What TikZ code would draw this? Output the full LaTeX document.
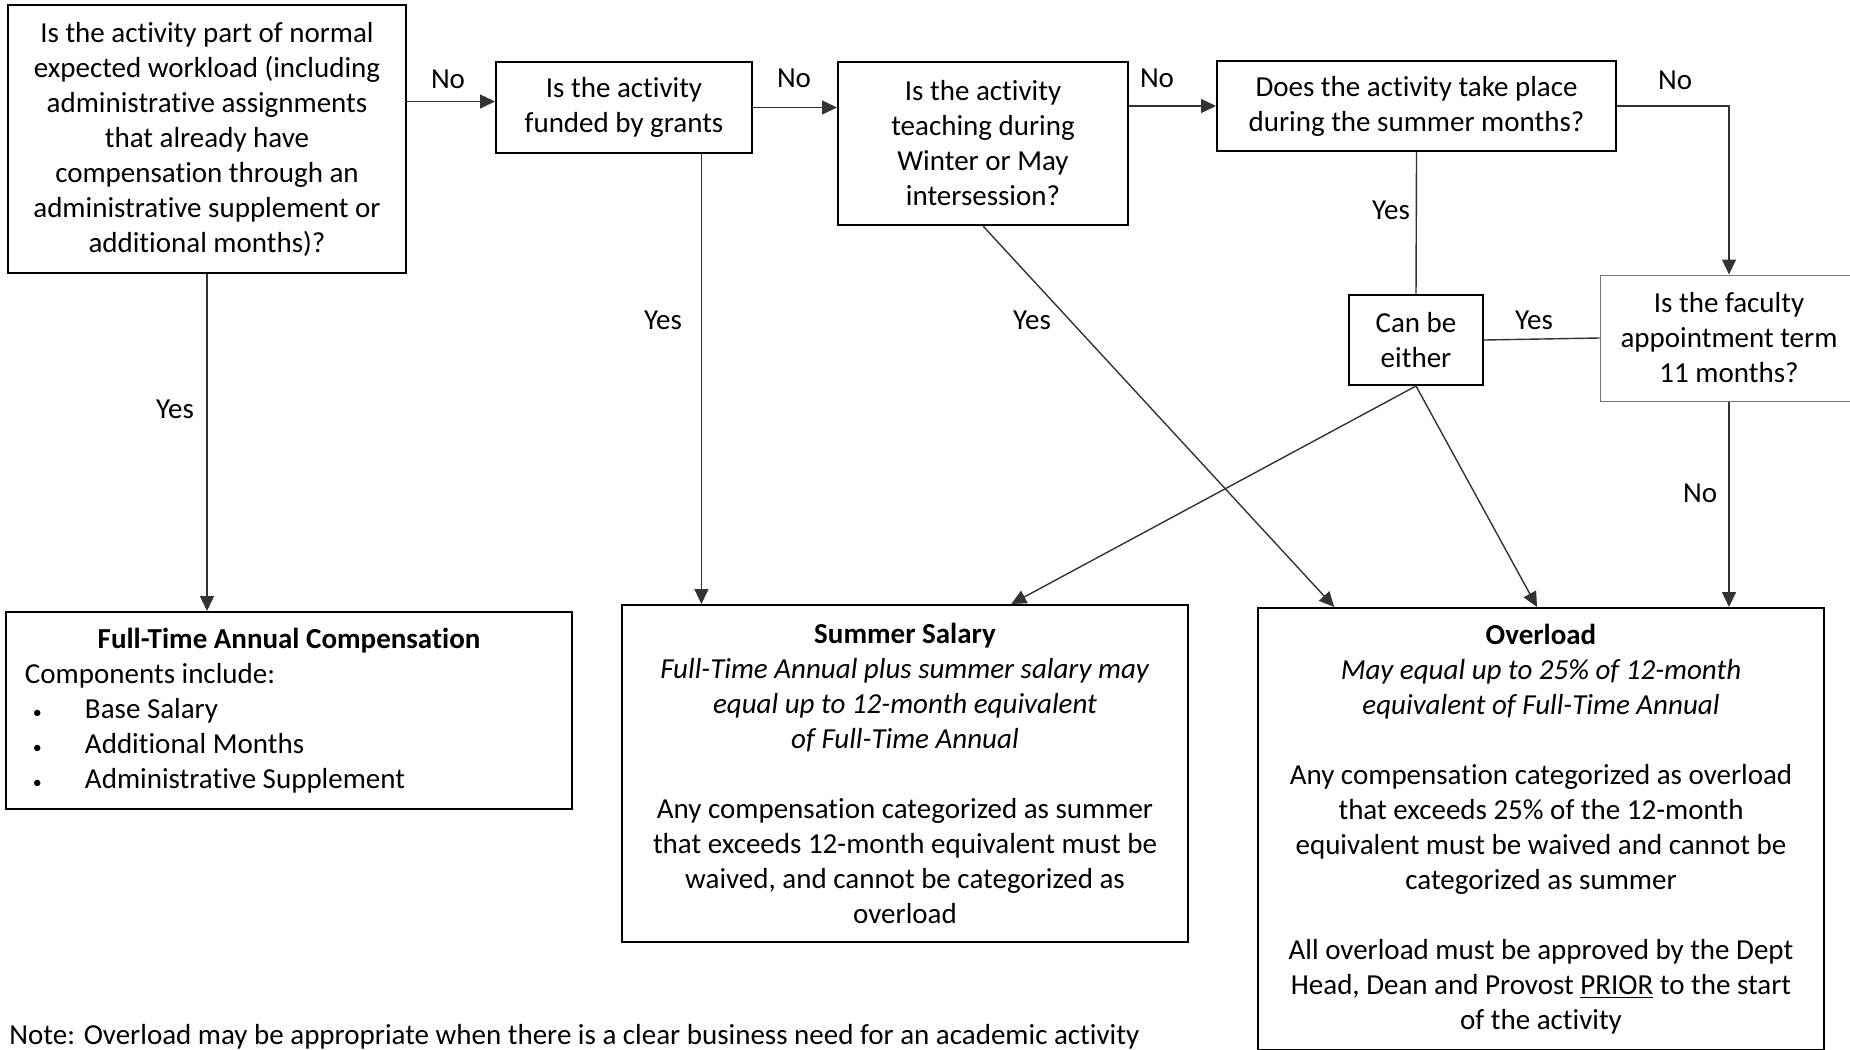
\documentclass[tikz,border=0pt]{standalone}
\usepackage{fontspec}
\setmainfont{Carlito}[Ligatures=NoCommon]
\usetikzlibrary{arrows.meta,calc}

\begin{document}
\begin{tikzpicture}[x=0.5pt,y=-0.5pt,
	every node/.style={font=\fontsize{14.5}{17.5}\selectfont},
	box/.style={draw,line width=1pt,align=center,inner sep=0pt},
	thinbox/.style={draw=black!55,line width=0.5pt,align=center,inner sep=0pt},
	link/.style={draw=black!80,line width=0.7pt},
	arr/.style={link,-{Triangle[length=7.5pt,width=7pt]}}]
			\useasboundingbox (0,0) rectangle (1850,1049);
			\node[box,minimum width=199pt,minimum height=134pt] (work) at (207,139) {Is the activity part of normal\\expected workload (including\\administrative assignments\\that already have\\compensation through an\\administrative supplement or\\additional months)?};
			\node[box,minimum width=128pt,minimum height=45.5pt] (grants) at (624,107.5) {Is the activity\\funded by grants};
			\node[box,minimum width=145pt,minimum height=81.5pt] (teach) at (983,143.5) {Is the activity\\teaching during\\Winter or May\\intersession?};
			\node[box,minimum width=199.5pt,minimum height=45pt] (months) at (1416.5,106) {Does the activity take place\\during the summer months?};
			\node[thinbox,minimum width=129pt,minimum height=63pt] (term) at (1729,338) {Is the faculty\\appointment term\\11 months?};
			\node[box,minimum width=67pt,minimum height=45pt] (either) at (1416,340) {Can be\\either};
			\node[box,align=left,inner xsep=9.5pt,minimum height=98.5pt] (annual) at (289,710.5) {\makebox[264pt][c]{\textbf{Full-Time Annual Compensation}}\\Components include:\\\hspace*{4pt}\makebox[26pt][l]{\small\textbullet}Base Salary\\\hspace*{4pt}\makebox[26pt][l]{\small\textbullet}Additional Months\\\hspace*{4pt}\makebox[26pt][l]{\small\textbullet}Administrative Supplement};
			\node[box,minimum width=283pt,minimum height=168.5pt] (summer) at (905,773.5) {\textbf{Summer Salary}\\\textit{Full-Time Annual plus summer salary may}\\\textit{equal up to 12-month equivalent}\\\textit{of Full-Time Annual}\\[17.5pt]Any compensation categorized as summer\\that exceeds 12-month equivalent must be\\waived, and cannot be categorized as\\overload};
			\node[box,minimum width=283pt,inner ysep=8pt,anchor=north] (overload) at (1541,607) {\textbf{Overload}\\\textit{May equal up to 25\% of 12-month}\\\textit{equivalent of Full-Time Annual}\\[17.5pt]Any compensation categorized as overload\\that exceeds 25\% of the 12-month\\equivalent must be waived and cannot be\\categorized as summer\\[17.5pt]All overload must be approved by the Dept\\Head, Dean and Provost \underline{PRIOR} to the start\\of the activity};
			\coordinate (grantsout) at ($(grants.south west)!0.8!(grants.south east)$);
			\draw[arr] ([yshift=3pt]grants.west -| work.east) -- ([yshift=3pt]grants.west);
			\draw[arr] (grants.east) -- (grants.east -| teach.west);
			\draw[arr] (teach.east |- months.west) -- (months.west);
			\draw[arr] (months.east) -| (term.north);
			\draw[arr] (work.south) -- (work.south |- annual.north);
			\draw[arr] (grantsout) -- (grantsout |- summer.north);
			\draw[arr] (teach.south) -- ($(overload.north west)!0.136!(overload.north east)$);
			\draw[link] (months.south) -- (either.north);
			\draw[link] (term.west) -- (either.east);
			\draw[arr] (either.south) -- ($(summer.north west)!0.687!(summer.north east)$);
			\draw[arr] (either.south) -- ($(overload.north west)!0.493!(overload.north east)$);
			\draw[arr] (term.south) -- (term.south |- overload.north);
			\node (no1) at (448,79) {No};
			\node (no2) at (794,78) {No};
			\node (no3) at (1157,78) {No};
			\node (no4) at (1675,80) {No};
			\node (no5) at (1700,493) {No};
			\node (yes1) at (175,409) {Yes};
			\node (yes2) at (663,320) {Yes};
			\node (yes3) at (1032,320) {Yes};
			\node (yes4) at (1391,210) {Yes};
			\node (yes5) at (1534,320) {Yes};
			\node[anchor=base west,inner sep=0pt] (note) at (9,1044) {Note: Overload may be appropriate when there is a clear business need for an academic activity};
		\end{tikzpicture}
\end{document}
